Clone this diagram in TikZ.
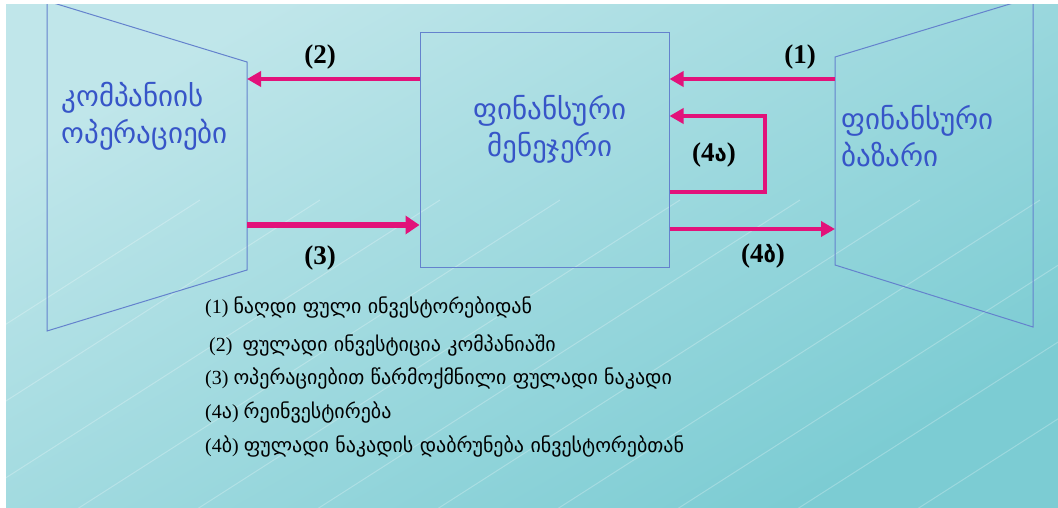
\documentclass[tikz,border=0pt]{standalone}
\usepackage{fontspec}
\setmainfont{Liberation Serif}
\newfontfamily\geo{DejaVu Sans}
\usetikzlibrary{arrows.meta}
\definecolor{bgA}{RGB}{192,230,234}
\definecolor{bgB}{RGB}{124,204,211}
\definecolor{edge}{RGB}{100,130,205}
\definecolor{flow}{RGB}{226,18,122}
\definecolor{blu}{RGB}{55,85,200}
\tikzset{
  shapeline/.style={draw=edge, line width=1pt},
  flowarrow/.style={draw=flow, line width=4.5pt, -{Triangle[length=14pt,width=15pt]}},
  flowlabel/.style={font=\fontsize{27}{30}\selectfont\bfseries, text=black},
  boxtext/.style={font=\fontsize{29}{37}\selectfont\geo, text=blu},
  legend/.style={font=\fontsize{20}{22}\selectfont, text=black, anchor=west, inner sep=0pt},
}
\begin{document}
\begin{tikzpicture}[x=1pt,y=-1pt]
\useasboundingbox (0,0) rectangle (1058,508);
\shade[top color=bgA, bottom color=bgB, shading angle=30] (6,5) rectangle (1058,507);
\begin{scope}
\clip (6,5) rectangle (1058,507);
\foreach \a in {0,120,...,1200} {
  \draw[white, opacity=0.25, line width=1pt] (\a-300,520) -- (\a+200,200);
}
% left trapezoid
\draw[shapeline] (47,1) -- (247,62) -- (247,270) -- (47,331) -- cycle;
% right trapezoid
\draw[shapeline] (1033,-3) -- (835,57) -- (835,265) -- (1033,327) -- cycle;
\end{scope}
% nodes
\node[shapeline, minimum width=249pt, minimum height=234pt, inner sep=0pt] (fm) at (544.5,150) {};
\node[boxtext, align=center] (fmtext) at (550,129) {ფინანსური\\მენეჯერი};
\node[boxtext, align=left, anchor=west] (optext) at (58,116) {კომპანიის\\ოპერაციები};
\node[boxtext, align=left, anchor=west] (mktext) at (838,136) {ფინანსური\\ბაზარი};
% connector end points on trapezoids
\coordinate (opR2) at (247,79);
\coordinate (opR3) at (247,225);
\coordinate (mkL1) at (835,79);
\coordinate (mkL4) at (835,229);
\coordinate (lb) at (765,192);
\coordinate (lt) at (765,116);
% arrows
\draw[flowarrow] (fm.west |- opR2) -- (opR2);
\draw[flowarrow, line width=6.5pt, -{Triangle[length=14pt,width=18pt]}] (opR3) -- (fm.west |- opR3);
\draw[flowarrow] (mkL1) -- (fm.east |- mkL1);
\draw[flowarrow] (fm.east |- mkL4) -- (mkL4);
\draw[flowarrow, line join=miter] (fm.east |- lb) -- (lb) -- (lt) -- (fm.east |- lt);
% labels
\node[flowlabel] (l2) at (320,57) {(2)};
\node[flowlabel] (l3) at (320,258) {(3)};
\node[flowlabel] (l1) at (800,57) {(1)};
\node[flowlabel] (l4a) at (714,155) {(4{\fontsize{22}{24}\selectfont\geo ა})};
\node[flowlabel] (l4b) at (763,256) {(4{\fontsize{22}{24}\selectfont\geo ბ})};
% legend
\node[legend] (g1) at (205,307) {(1) {\geo ნაღდი ფული ინვესტორებიდან}};
\node[legend] (g2) at (209,345) {(2)\ \ {\geo ფულადი ინვესტიცია კომპანიაში}};
\node[legend] (g3) at (205,378) {(3) {\geo ოპერაციებით წარმოქმნილი ფულადი ნაკადი}};
\node[legend] (g4) at (205,412) {(4{\geo ა}) {\geo რეინვესტირება}};
\node[legend] (g5) at (205,446) {(4{\geo ბ}) {\geo ფულადი ნაკადის დაბრუნება ინვესტორებთან}};
\end{tikzpicture}
\end{document}
